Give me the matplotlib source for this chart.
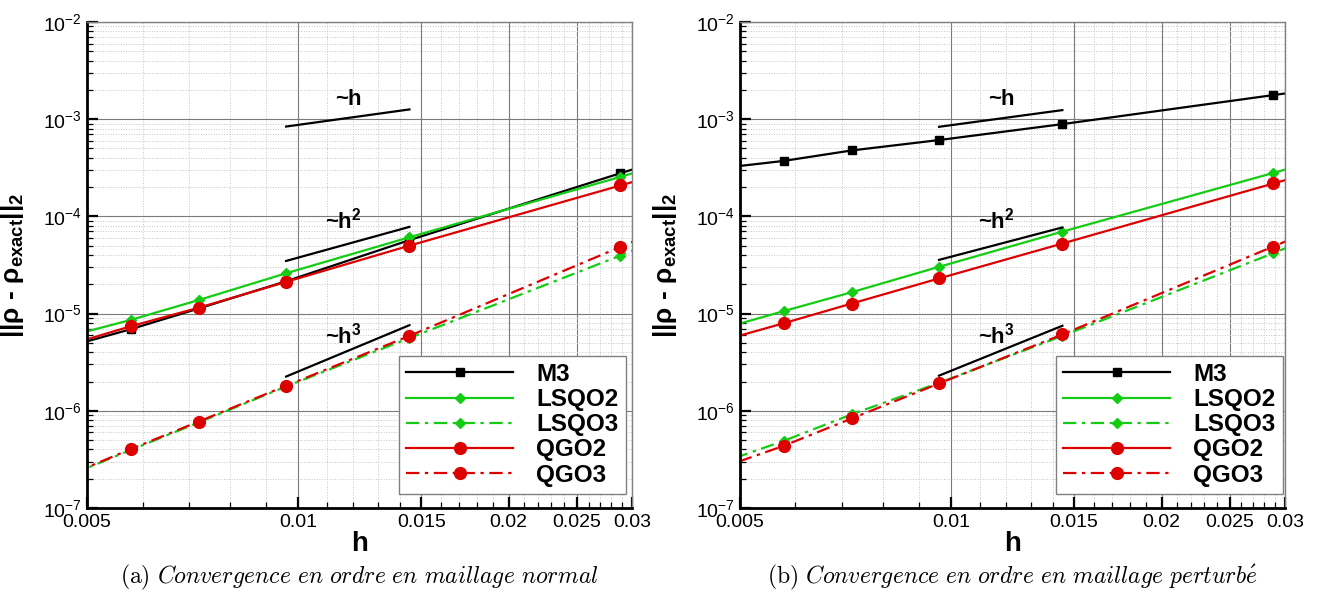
import matplotlib
matplotlib.use('Agg')
import matplotlib.pyplot as plt
from matplotlib.ticker import FixedLocator, FormatStrFormatter, LogLocator, NullFormatter

plt.rcParams['font.family'] = ['Liberation Sans', 'DejaVu Sans']
plt.rcParams['mathtext.fontset'] = 'custom'
plt.rcParams['mathtext.rm'] = 'Liberation Sans'
plt.rcParams['mathtext.bf'] = 'Liberation Sans:bold'
plt.rcParams['mathtext.it'] = 'Liberation Sans:italic'
plt.rcParams['mathtext.sf'] = 'Liberation Sans'

# mesh sizes (first and last are outside the plotted range)
h = [0.0577, 0.02887, 0.01443, 0.00962, 0.00722, 0.00577, 0.00481]

# (a) maillage normal
m3_a = [1.29e-3, 2.78e-4, 5.7e-5, 2.15e-5, 1.13e-5, 6.9e-6, 4.8e-6]
lsqo2_a = [1.12e-3, 2.55e-4, 6.1e-5, 2.6e-5, 1.38e-5, 8.6e-6, 6.1e-6]
lsqo3_a = [3.2e-4, 3.95e-5, 5.6e-6, 1.78e-6, 7.6e-7, 3.95e-7, 2.3e-7]
qgo2_a = [8.6e-4, 2.08e-4, 5.0e-5, 2.12e-5, 1.15e-5, 7.4e-6, 5.0e-6]
qgo3_a = [3.9e-4, 4.85e-5, 5.9e-6, 1.81e-6, 7.76e-7, 4.03e-7, 2.33e-7]

# (b) maillage perturbe
m3_b = [3.5e-3, 1.77e-3, 8.9e-4, 6.1e-4, 4.77e-4, 3.72e-4, 3.2e-4]
lsqo2_b = [1.15e-3, 2.8e-4, 6.97e-5, 3.03e-5, 1.66e-5, 1.06e-5, 7.3e-6]
lsqo3_b = [3.3e-4, 4.18e-5, 5.9e-6, 1.94e-6, 9.2e-7, 4.9e-7, 3.1e-7]
qgo2_b = [9.0e-4, 2.18e-4, 5.26e-5, 2.3e-5, 1.27e-5, 7.95e-6, 5.5e-6]
qgo3_b = [3.9e-4, 4.9e-5, 6.1e-6, 1.91e-6, 8.34e-7, 4.36e-7, 2.75e-7]

# slope triangles (reference lines)
ref_h = [0.00962, 0.01443]
ref1_a = [8.4e-4, 1.26e-3]
ref2_a = [3.48e-5, 7.8e-5]
ref3_a = [2.25e-6, 7.6e-6]
ref1_b = [8.35e-4, 1.24e-3]
ref2_b = [3.57e-5, 7.7e-5]
ref3_b = [2.3e-6, 7.5e-6]
ref_labels = ['~$\\mathbf{h}$', '~$\\mathbf{h^2}$', '~$\\mathbf{h^3}$']
ref_label_h = [0.0118, 0.0116, 0.0116]
ref_label_y = [1.4e-3, 7.5e-5, 4.95e-6]

series_names = ['M3', 'LSQO2', 'LSQO3', 'QGO2', 'QGO3']
xticks = [0.005, 0.01, 0.015, 0.02, 0.025, 0.03]
xminor = [0.001 * k for k in range(5, 31)]

ylabel = r'||ρ - ρ$_{\mathbf{exact}}$||$_{\mathbf{2}}$'
captions = [r'$\mathrm{(a)}\ \mathit{Convergence\ en\ ordre\ en\ maillage\ normal}$',
            r'$\mathrm{(b)}\ \mathit{Convergence\ en\ ordre\ en\ maillage\ perturb\acute{e}}$']

GREEN = '#14cc14'
RED = '#dd0000'
DASHDOT = (0, (6, 2.5, 1.5, 2.5))
styles = [
    dict(color='black', ls='-', marker='s', ms=5.5),
    dict(color=GREEN, ls='-', marker='D', ms=5.5),
    dict(color=GREEN, ls=DASHDOT, marker='D', ms=5.5),
    dict(color=RED, ls='-', marker='o', ms=8.5),
    dict(color=RED, ls=DASHDOT, marker='o', ms=8.5),
]


def draw_panel(ax, series, refs, legend_x):
    for name, ys, st in zip(series_names, series, styles):
        ax.plot(h, ys, color=st['color'], linestyle=st['ls'], linewidth=1.6,
                marker=st['marker'], markersize=st['ms'], label=name)
    for ry in refs:
        ax.plot(ref_h, ry, color='black', linewidth=1.6)
    for txt, tx, ty in zip(ref_labels, ref_label_h, ref_label_y):
        ax.text(tx, ty, txt, ha='center', va='baseline', fontsize=16, fontweight='bold')

    ax.set_xscale('log')
    ax.set_yscale('log')
    ax.set_xlim(0.005, 0.03)
    ax.set_ylim(1e-7, 1e-2)

    ax.xaxis.set_major_locator(FixedLocator(xticks))
    ax.xaxis.set_major_formatter(FormatStrFormatter('%g'))
    ax.xaxis.set_minor_locator(FixedLocator(xminor))
    ax.xaxis.set_minor_formatter(NullFormatter())
    ax.yaxis.set_major_locator(LogLocator(base=10, numticks=10))
    ax.yaxis.set_minor_locator(LogLocator(base=10, subs=range(2, 10), numticks=20))
    ax.yaxis.set_minor_formatter(NullFormatter())

    ax.grid(True, which='major', color='#7a7a7a', linestyle='-', linewidth=0.8)
    ax.grid(True, which='minor', color='#c4c4c4', linestyle=':', linewidth=0.7)
    ax.set_axisbelow(True)

    ax.tick_params(which='both', direction='in', top=False, right=False, labelsize=14)
    ax.tick_params(which='major', length=8, width=1.6)
    ax.tick_params(which='minor', length=4.5, width=0.9)
    ax.tick_params(axis='x', pad=4)
    ax.tick_params(axis='y', pad=4)

    for side in ['left', 'bottom']:
        ax.spines[side].set_linewidth(2)
        ax.spines[side].set_color('black')
    for side in ['top', 'right']:
        ax.spines[side].set_linewidth(1)
        ax.spines[side].set_color('#808080')

    ax.set_xlabel('h', fontsize=20, fontweight='bold')
    ax.xaxis.set_label_coords(0.5, -0.048)
    ax.set_ylabel(ylabel, fontsize=19, fontweight='bold')
    ax.yaxis.set_label_coords(-0.112, 0.5)

    leg = ax.legend(loc='lower right', bbox_to_anchor=(legend_x, 0.029), borderaxespad=0,
                    numpoints=1, handlelength=4.4, handletextpad=0.95, labelspacing=0.09,
                    fancybox=False, framealpha=1, edgecolor='#808080',
                    prop={'weight': 'bold', 'size': 17.5}, borderpad=0.3)
    leg.get_frame().set_linewidth(1)


fig = plt.figure(figsize=(13.17, 5.99), dpi=100)
ax1 = fig.add_axes([0.0661, 0.1519, 0.4138, 0.8114])
ax2 = fig.add_axes([0.5619, 0.1519, 0.4138, 0.8114])

draw_panel(ax1, [m3_a, lsqo2_a, lsqo3_a, qgo2_a, qgo3_a], [ref1_a, ref2_a, ref3_a], 0.989)
draw_panel(ax2, [m3_b, lsqo2_b, lsqo3_b, qgo2_b, qgo3_b], [ref1_b, ref2_b, ref3_b], 0.996)

fig.text(0.273, 0.036, captions[0], ha='center', va='center', fontsize=17, math_fontfamily='cm')
fig.text(0.7686, 0.036, captions[1], ha='center', va='center', fontsize=17, math_fontfamily='cm')

fig.savefig('out.png', dpi=100)
